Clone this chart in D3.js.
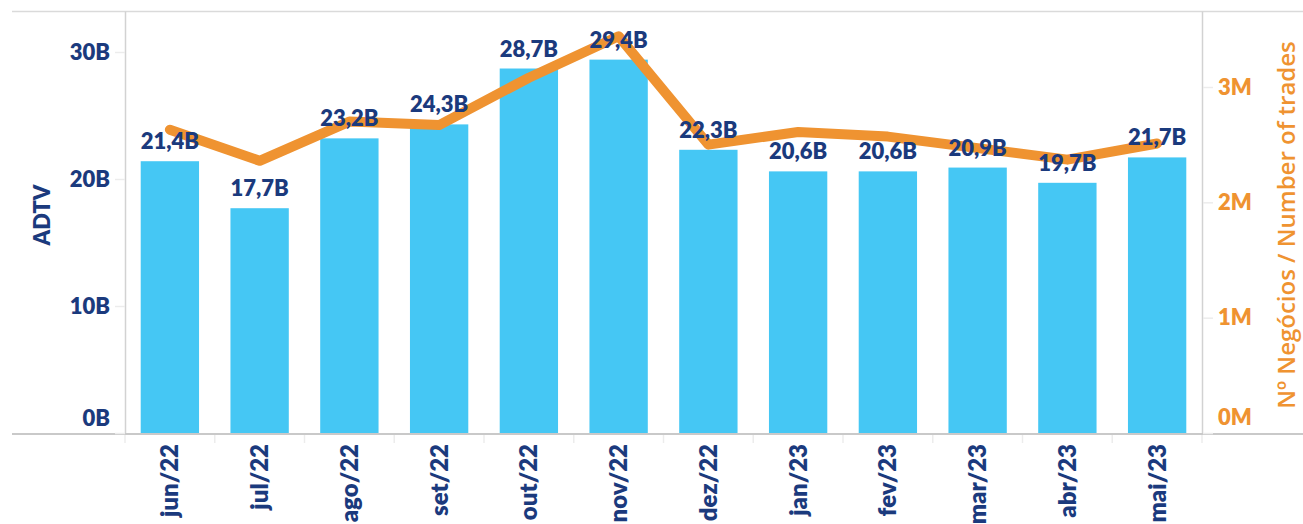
<!DOCTYPE html>
<html>
<head>
<meta charset="utf-8">
<script src="https://cdn.jsdelivr.net/npm/d3@7"></script>
<style>
  html, body { margin: 0; padding: 0; background: #fff; }
  svg { display: block; }
</style>
</head>
<body>
<svg id="chart" width="1303" height="524"></svg>
<script>
const months = ["jun/22","jul/22","ago/22","set/22","out/22","nov/22","dez/22","jan/23","fev/23","mar/23","abr/23","mai/23"];
const adtv = [21.4,17.7,23.2,24.3,28.7,29.4,22.3,20.6,20.6,20.9,19.7,21.7];
const adtvLabels = ["21,4B","17,7B","23,2B","24,3B","28,7B","29,4B","22,3B","20,6B","20,6B","20,9B","19,7B","21,7B"];
const trades = [2.63,2.36,2.70,2.67,3.08,3.44,2.50,2.61,2.57,2.47,2.37,2.51];
const leftTicks = [0,10,20,30];
const rightTicks = [0,1,2,3];

const navy = "#1b3a7d", orange = "#ef9331", barColor = "#45c7f4", grey = "#d2d2d2";
const font = "Lato, 'Open Sans', sans-serif";

const svg = d3.select("#chart");
const x0 = 125, x1 = 1202, yBase = 433, yTop = 11.5;

const x = d3.scaleBand().domain(months).range([x0, x1]).paddingInner(0.35).paddingOuter(0.175);
const yL = d3.scaleLinear().domain([0,30]).range([yBase, 52]);
const yR = d3.scaleLinear().domain([0,3]).range([yBase, 87]);

// frame lines
svg.append("line").attr("x1",12).attr("x2",1303).attr("y1",yTop).attr("y2",yTop)
  .attr("stroke","#dadada").attr("stroke-width",1.5);
[x0+0.5, x1+0.5].forEach(xx => {
  svg.append("line").attr("x1",xx).attr("x2",xx).attr("y1",yTop).attr("y2",yBase+1)
    .attr("stroke",grey).attr("stroke-width",1.5);
});

// boundary ticks on x axis
const step = x.step();
d3.range(months.length+1).forEach(i => {
  const xx = x0 + i*step;
  svg.append("line").attr("x1",xx).attr("x2",xx).attr("y1",yBase).attr("y2",yBase+10)
    .attr("stroke","#ececec").attr("stroke-width",1.5);
});

// bars
svg.append("g").selectAll("rect").data(adtv).join("rect")
  .attr("x",(d,i)=>x(months[i]))
  .attr("width",x.bandwidth())
  .attr("y",d=>yL(d))
  .attr("height",d=>yBase-yL(d))
  .attr("fill",barColor);

// bottom axis line
svg.append("line").attr("x1",12).attr("x2",1303).attr("y1",yBase+1).attr("y2",yBase+1)
  .attr("stroke","#c9c9c9").attr("stroke-width",2);

// left axis
const gL = svg.append("g").attr("transform",`translate(${x0},0)`)
  .call(d3.axisLeft(yL).tickValues(leftTicks).tickSize(10).tickPadding(5).tickFormat(d=>d+"B"));
gL.select(".domain").remove();
gL.selectAll(".tick line").attr("stroke","#ececec").attr("stroke-width",1.5);
gL.selectAll(".tick text").attr("fill",navy).style("font-family",font)
  .style("font-weight","800").style("font-size","22px");
gL.selectAll(".tick").filter(d=>d===0).select("text").attr("dy","-0.35em");

// right axis
const gR = svg.append("g").attr("transform",`translate(${x1+1},0)`)
  .call(d3.axisRight(yR).tickValues(rightTicks).tickSize(10).tickPadding(5).tickFormat(d=>d+"M"));
gR.select(".domain").remove();
gR.selectAll(".tick line").attr("stroke","#ececec").attr("stroke-width",1.5);
gR.selectAll(".tick text").attr("fill",orange).style("font-family",font)
  .style("font-weight","800").style("font-size","22px");
gR.selectAll(".tick").filter(d=>d===0).select("text").attr("dy","-0.4em");

// x labels
svg.append("g").selectAll("text").data(months).join("text")
  .attr("transform",d=>`translate(${x(d)+x.bandwidth()/2},444) rotate(-90)`)
  .attr("text-anchor","end").attr("dy","0.35em")
  .attr("fill",navy).style("font-family",font).style("font-weight","800").style("font-size","24px")
  .text(d=>d);

// axis titles
svg.append("text").attr("transform","translate(42,215) rotate(-90)")
  .attr("text-anchor","middle").attr("dy","0.35em")
  .attr("fill",navy).style("font-family",font).style("font-weight","800").style("font-size","22px")
  .text("ADTV");
svg.append("text").attr("transform","translate(1287,225) rotate(-90)")
  .attr("text-anchor","middle").attr("dy","0.35em")
  .attr("fill",orange).style("font-family","'Open Sans', Lato, sans-serif").style("font-weight","600").style("font-size","24px")
  .text("Nº Negócios / Number of trades");

// line
const line = d3.line().x((d,i)=>x(months[i])+x.bandwidth()/2).y(d=>yR(d));
svg.append("path").datum(trades).attr("d",line)
  .attr("fill","none").attr("stroke",orange).attr("stroke-width",10)
  .attr("stroke-linecap","round").attr("stroke-linejoin","round");

// bar labels
svg.append("g").selectAll("text").data(adtv).join("text")
  .attr("x",(d,i)=>x(months[i])+x.bandwidth()/2)
  .attr("y",d=>yL(d)-12)
  .attr("text-anchor","middle")
  .attr("fill",navy).style("font-family",font).style("font-weight","800").style("font-size","22px")
  .text((d,i)=>adtvLabels[i]);
</script>
</body>
</html>
